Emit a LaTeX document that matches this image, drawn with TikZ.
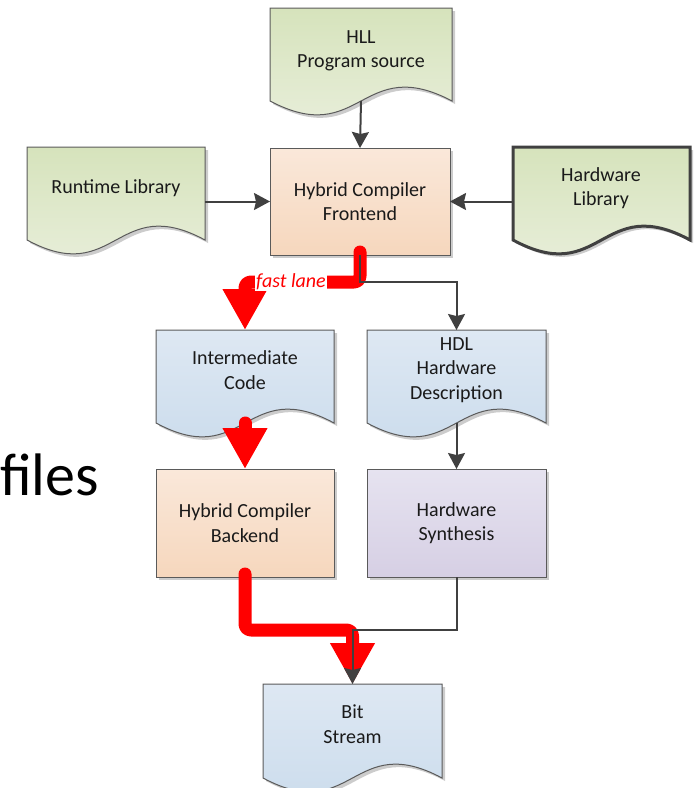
\documentclass[tikz,border=0pt]{standalone}
\usepackage{fontspec}
\setmainfont{Carlito}
\usetikzlibrary{arrows.meta,calc,shadows}

\definecolor{lineGrey}{HTML}{5A5A5A}
\definecolor{arrowGrey}{HTML}{404040}
\definecolor{textBlack}{HTML}{1A1A1A}
\definecolor{greenTop}{HTML}{D6E3BC}
\definecolor{greenBot}{HTML}{EBF0DF}
\definecolor{peachTop}{HTML}{FAE8DA}
\definecolor{peachBot}{HTML}{F6D7BD}
\definecolor{blueTop}{HTML}{DEE8F3}
\definecolor{blueBot}{HTML}{C8DAEB}
\definecolor{lilacTop}{HTML}{E6E3F0}
\definecolor{lilacBot}{HTML}{D6CFE4}
\definecolor{laneRed}{HTML}{FF0000}

% outline of a document shape built on the body node #1
\newcommand{\docoutline}[2]{%
  \path[#2] (#1.north west) -- (#1.north east) -- (#1.south east)
    .. controls ($(#1.south)+(0,-48)$) and ($(#1.south)+(0,48)$) .. (#1.south west) -- cycle;}

\begin{document}
\begin{tikzpicture}[x=1pt,y=-1pt,
  body/.style={rectangle, inner sep=0pt, outer sep=0pt},
  boxline/.style={draw=lineGrey, line width=1pt,
    drop shadow={shadow xshift=3pt, shadow yshift=-3pt, fill=black!20, opacity=1}},
  heavyline/.style={draw=arrowGrey, line width=3pt,
    drop shadow={shadow xshift=3pt, shadow yshift=-3pt, fill=black!20, opacity=1}},
  greenfill/.style={top color=greenTop, bottom color=greenBot},
  peachfill/.style={top color=peachTop, bottom color=peachBot},
  bluefill/.style={top color=blueTop, bottom color=blueBot},
  lilacfill/.style={top color=lilacTop, bottom color=lilacBot},
  txt/.style={font=\fontsize{20}{24.5}\selectfont, text=textBlack, align=center, inner sep=0pt},
  conn/.style={draw=arrowGrey, line width=2pt, -{Stealth[length=16pt,width=17pt,inset=2pt]}},
  fast/.style={draw=laneRed, line width=13pt, line cap=round, line join=round,
    rounded corners=6pt, -{Triangle[length=41pt,width=42pt]}},
]
\useasboundingbox (0,0) rectangle (695,788);

% large slide text at the left edge
\node[anchor=base west, inner sep=0pt, font=\fontsize{60}{60}\selectfont, text=black] (files) at (0,495) {files};

% ---- document shapes (body nodes carry the anchors) ----
\node[body, minimum width=182pt, minimum height=93pt] (hll) at (361,54.5) {};
\node[body, minimum width=178pt, minimum height=93pt] (rt) at (116,193.5) {};
\node[body, minimum width=177pt, minimum height=93pt] (hwl) at (601.5,193.5) {};
\node[body, minimum width=178pt, minimum height=93pt] (ic) at (245,376.5) {};
\node[body, minimum width=179pt, minimum height=93pt] (hdl) at (456.5,376.5) {};
\node[body, minimum width=179pt, minimum height=94pt] (bs) at (352.5,731) {};

\docoutline{hll}{boxline, greenfill}
\docoutline{rt}{boxline, greenfill}
\docoutline{hwl}{heavyline, greenfill}
\docoutline{ic}{boxline, bluefill}
\docoutline{hdl}{boxline, bluefill}
\docoutline{bs}{boxline, bluefill}

\node[txt] (hll-t) at (361,51) {HLL\\Program source};
\node[txt] (rt-t) at (116,188) {Runtime Library};
\node[txt] (hwl-t) at (601,188) {Hardware\\Library};
\node[txt] (ic-t) at (245,370) {Intermediate\\Code};
\node[txt] (hdl-t) at (456.5,370) {HDL\\Hardware\\Description};
\node[txt] (bs-t) at (352.5,724) {Bit\\Stream};

% ---- process boxes ----
\node[body, boxline, peachfill, txt, minimum width=180pt, minimum height=107pt]
  (front) at (360,201.5) {Hybrid Compiler\\Frontend};
\node[body, boxline, peachfill, txt, minimum width=178pt, minimum height=108pt]
  (be) at (245,523) {Hybrid Compiler\\Backend};
\node[body, boxline, lilacfill, txt, minimum width=179pt, minimum height=108pt]
  (syn) at (456.5,523) {Hardware\\Synthesis};

% ---- inputs to the frontend ----
\draw[conn] (hll.south) -- (front.north);
\draw[conn] (rt.east |- front.west) -- (front.west);
\draw[conn] (hwl.west |- front.east) -- (front.east);

% ---- split below the frontend ----
\coordinate (split) at ($(front.south)+(0,27)$);
\coordinate (join) at ($(be.south)+(0,53)$);

% fast lane (software path)
\draw[fast] ($(front.south)+(0,-3)$) -- (split) -- (split -| ic.north) -- (ic.north);
\draw[fast] ($(ic.south)+(0,0)$) -- (be.north);
\draw[fast] ($(be.south)+(0,-3)$) -- (join) -- (join -| bs.north) -- (bs.north);

% hardware path
\draw[conn] (front.south) -- (split) -- (split -| hdl.north) -- (hdl.north);
\draw[conn] (hdl.south) -- (syn.north);
\draw[conn] (syn.south) -- (syn.south |- join) -- (join -| bs.north) -- (bs.north);

\node[font=\fontsize{20}{24}\selectfont\itshape, text=laneRed, fill=white, inner sep=1pt]
  (lane) at (291,282) {fast lane};
\end{tikzpicture}
\end{document}
